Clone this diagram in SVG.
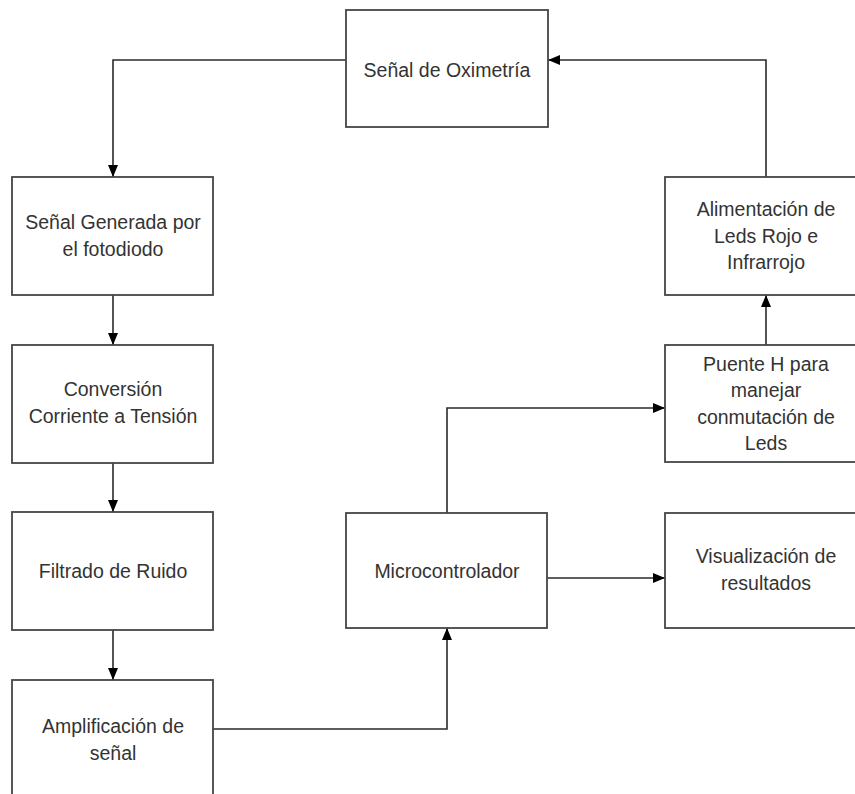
<svg xmlns="http://www.w3.org/2000/svg" width="855" height="794" viewBox="0 0 855 794">
  <style>
    .box { fill: #ffffff; stroke: #454545; stroke-width: 1.8; }
    .lbl { font-family: "Liberation Sans", Arial, sans-serif; font-size: 19.5px; fill: #333333; text-anchor: middle; }
    .wire { fill: none; stroke: #2a2a2a; stroke-width: 1.6; }
  </style>
  <defs>
    <marker id="arrow" viewBox="0 0 12 10" refX="12" refY="5" markerWidth="12" markerHeight="10" markerUnits="userSpaceOnUse" orient="auto">
      <path d="M0,0 L12,5 L0,10 z" fill="#000000"/>
    </marker>
  </defs>
  <rect width="855" height="794" fill="#ffffff"/>

  <g id="connectors">
    <polyline class="wire" points="346,60 113,60 113,177" marker-end="url(#arrow)"/>
    <line class="wire" x1="113" y1="295" x2="113" y2="345" marker-end="url(#arrow)"/>
    <line class="wire" x1="113" y1="463" x2="113" y2="512" marker-end="url(#arrow)"/>
    <line class="wire" x1="113" y1="630" x2="113" y2="680" marker-end="url(#arrow)"/>
    <polyline class="wire" points="213,729 447,729 447,628" marker-end="url(#arrow)"/>
    <polyline class="wire" points="447,513 447,408 665,408" marker-end="url(#arrow)"/>
    <line class="wire" x1="547" y1="578" x2="665" y2="578" marker-end="url(#arrow)"/>
    <line class="wire" x1="766" y1="345" x2="766" y2="295" marker-end="url(#arrow)"/>
    <polyline class="wire" points="766,177 766,60 548,60" marker-end="url(#arrow)"/>
  </g>

  <g id="oximetria">
    <rect class="box" x="346" y="10" width="202" height="117"/>
    <text class="lbl" x="447" y="77">Señal de Oximetría</text>
  </g>
  <g id="fotodiodo">
    <rect class="box" x="12" y="177" width="201" height="118"/>
    <text class="lbl" x="113" y="229">Señal Generada por</text>
    <text class="lbl" x="113" y="256">el fotodiodo</text>
  </g>
  <g id="conversion">
    <rect class="box" x="12" y="345" width="201" height="118"/>
    <text class="lbl" x="113" y="396">Conversión</text>
    <text class="lbl" x="113" y="423">Corriente a Tensión</text>
  </g>
  <g id="filtrado">
    <rect class="box" x="12" y="512" width="201" height="118"/>
    <text class="lbl" x="113" y="578">Filtrado de Ruido</text>
  </g>
  <g id="amplificacion">
    <rect class="box" x="12" y="680" width="201" height="130"/>
    <text class="lbl" x="113" y="733">Amplificación de</text>
    <text class="lbl" x="113" y="760">señal</text>
  </g>
  <g id="microcontrolador">
    <rect class="box" x="346" y="513" width="201" height="115"/>
    <text class="lbl" x="447" y="578">Microcontrolador</text>
  </g>
  <g id="visualizacion">
    <rect class="box" x="665" y="513" width="201" height="115"/>
    <text class="lbl" x="766" y="563">Visualización de</text>
    <text class="lbl" x="766" y="590">resultados</text>
  </g>
  <g id="puente-h">
    <rect class="box" x="665" y="345" width="201" height="117"/>
    <text class="lbl" x="766" y="371">Puente H para</text>
    <text class="lbl" x="766" y="397">manejar</text>
    <text class="lbl" x="766" y="424">conmutación de</text>
    <text class="lbl" x="766" y="450">Leds</text>
  </g>
  <g id="alimentacion">
    <rect class="box" x="665" y="177" width="201" height="118"/>
    <text class="lbl" x="766" y="216">Alimentación de</text>
    <text class="lbl" x="766" y="243">Leds Rojo e</text>
    <text class="lbl" x="766" y="269">Infrarrojo</text>
  </g>
</svg>
